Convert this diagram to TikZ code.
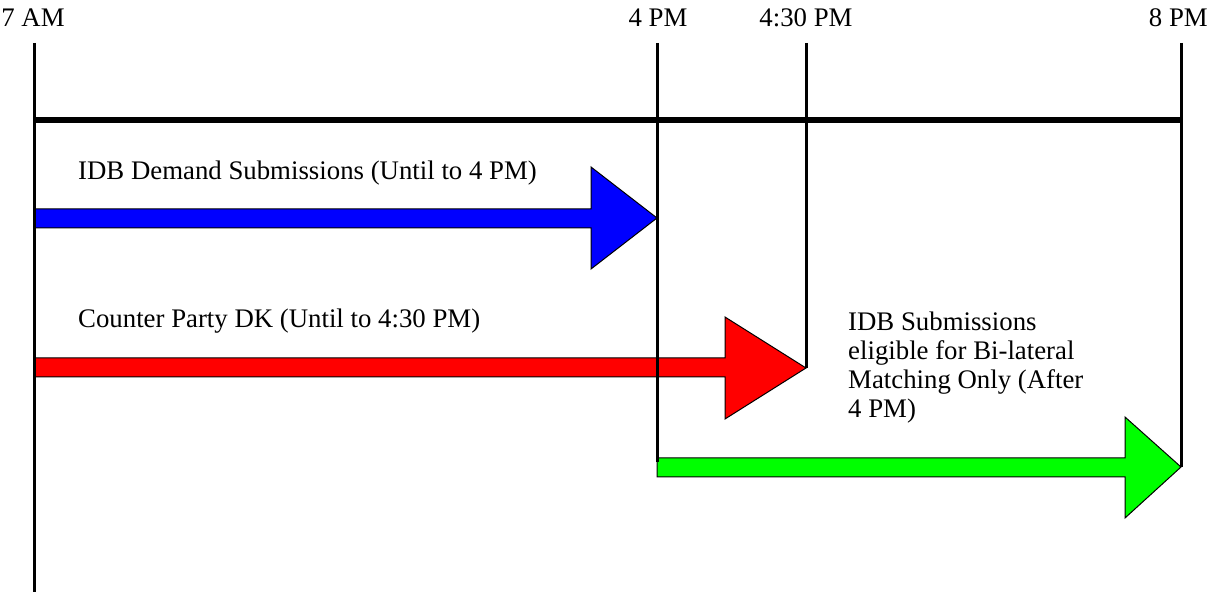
\documentclass[tikz,border=0pt]{standalone}
\usepackage{fontspec}
\setmainfont{Liberation Serif}
\begin{document}
\begin{tikzpicture}[x=1pt,y=-1pt,
  tick/.style={line width=3pt},
  axis/.style={line width=6pt},
  lbl/.style={font=\fontsize{26.8}{29}\selectfont, inner sep=0pt},
  arr/.style={draw=black, line width=1pt, line join=miter}]
\useasboundingbox (0,0) rectangle (1208,593);
% time labels
\node[lbl, anchor=base] (t7) at (33,27) {7 AM};
\node[lbl, anchor=base] (t4) at (658,27) {4 PM};
\node[lbl, anchor=base] (t430) at (806,27) {4:30 PM};
\node[lbl, anchor=base east] (t8) at (1208,27) {8 PM};
% coordinates
\coordinate (a7t) at (34,43);
\coordinate (a7b) at (34,592);
\coordinate (a4t) at (657,43);
\coordinate (a4b) at (657,462);
\coordinate (a430t) at (806,43);
\coordinate (a430b) at (806,368);
\coordinate (a8t) at (1181,43);
\coordinate (a8b) at (1181,467);
% arrows (filled shapes)
\fill[blue] (34,209) -- (591,209) -- (591,167) -- (657,218) -- (591,269) -- (591,228) -- (34,228) -- cycle;
\draw[arr] (34,209) -- (591,209) -- (591,167) -- (657,218) -- (591,269) -- (591,228) -- (34,228);
\fill[red] (34,358) -- (725,358) -- (725,317) -- (806,368) -- (725,419) -- (725,377) -- (34,377) -- cycle;
\draw[arr] (34,358) -- (725,358) -- (725,317) -- (806,368) -- (725,419) -- (725,377) -- (34,377);
\fill[green] (657,458) -- (1125,458) -- (1125,417) -- (1181,467) -- (1125,518) -- (1125,477) -- (657,477) -- cycle;
\draw[arr] (657,458) -- (1125,458) -- (1125,417) -- (1181,467) -- (1125,518) -- (1125,477) -- (657,477) -- cycle;
% vertical lines
\draw[tick] (a7t) -- (a7b);
\draw[tick] (a4t) -- (a4b);
\draw[tick] (a430t) -- (a430b);
\draw[tick] (a8t) -- (a8b);
% axis
\draw[axis] (34,120) -- (1182,120);
% texts
\node[lbl, anchor=base west] (l1) at (78,180) {IDB Demand Submissions (Until to 4 PM)};
\node[lbl, anchor=base west] (l2) at (78,328) {Counter Party DK (Until to 4:30 PM)};
\node[lbl, anchor=north west, align=left] (l3) at (848,312) {IDB Submissions\\eligible for Bi-lateral\\Matching Only (After\\4 PM)};
\end{tikzpicture}
\end{document}
